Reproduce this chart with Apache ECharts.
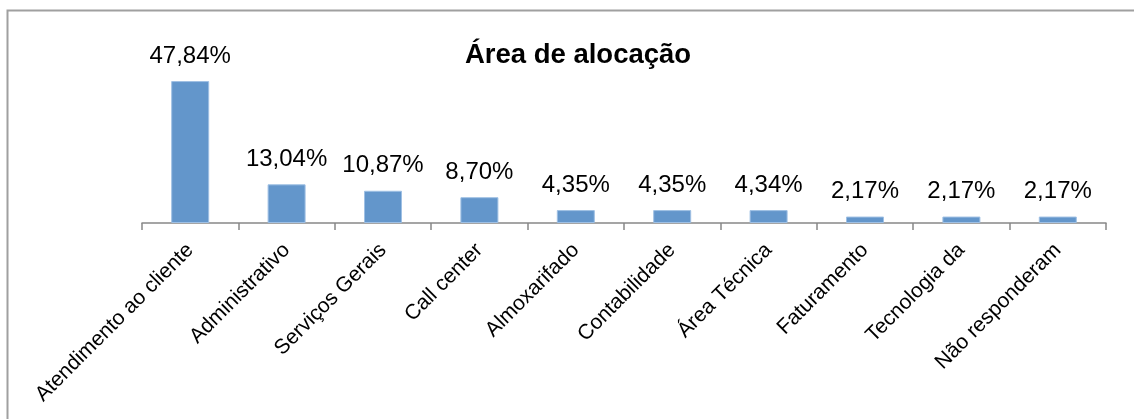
<!DOCTYPE html>
<html>
<head>
<meta charset="utf-8">
<script src="https://cdn.jsdelivr.net/npm/echarts@6/dist/echarts.min.js"></script>
<style>
  html, body { margin: 0; padding: 0; background: #fff; }
  #chart { width: 1134px; height: 419px; }
</style>
</head>
<body>
<div id="chart"></div>
<script>
const categorias = ['Atendimento ao cliente', 'Administrativo', 'Serviços Gerais', 'Call center',
  'Almoxarifado', 'Contabilidade', 'Área Técnica', 'Faturamento', 'Tecnologia da', 'Não responderam']
const percentuais = [47.84, 13.04, 10.87, 8.70, 4.35, 4.35, 4.34, 2.17, 2.17, 2.17]

const chart = echarts.init(document.getElementById('chart'))
chart.setOption({
  animation: false,
  textStyle: { fontFamily: 'Liberation Sans, Arial, sans-serif' },
  title: {
    text: 'Área de alocação',
    left: 573,
    top: 36,
    textAlign: 'center',
    textStyle: { fontSize: 27.5, fontWeight: 'bold', color: '#000', fontFamily: 'Liberation Sans, Arial, sans-serif' }
  },
  graphic: [{
    type: 'rect',
    shape: { x: 7.5, y: 10.5, width: 1200, height: 500 },
    style: { fill: 'none', stroke: '#a0a0a0', lineWidth: 2 },
    silent: true
  }],
  grid: { left: 142, right: 28, top: 45, bottom: 196 },
  xAxis: {
    type: 'category',
    data: categorias,
    axisLine: { lineStyle: { color: '#888', width: 1.5 } },
    axisTick: { show: true, length: 7, alignWithLabel: false, lineStyle: { color: '#888', width: 1.5 } },
    axisLabel: {
      interval: 0,
      rotate: 45,
      margin: 24,
      fontSize: 21,
      color: '#000',
      fontFamily: 'Liberation Sans, Arial, sans-serif'
    }
  },
  yAxis: {
    type: 'value',
    min: 0,
    max: 60,
    show: false,
    splitLine: { show: false }
  },
  series: [{
    type: 'bar',
    data: percentuais,
    barWidth: 38,
    itemStyle: { color: '#6396cb', borderColor: '#9fc0e4', borderWidth: 1 },
    label: {
      show: true,
      position: 'top',
      distance: 13,
      fontSize: 24,
      color: '#000',
      fontFamily: 'Liberation Sans, Arial, sans-serif',
      formatter: function (p) {
        return p.value.toFixed(2).replace('.', ',') + '%'
      }
    }
  }]
})
</script>
</body>
</html>
